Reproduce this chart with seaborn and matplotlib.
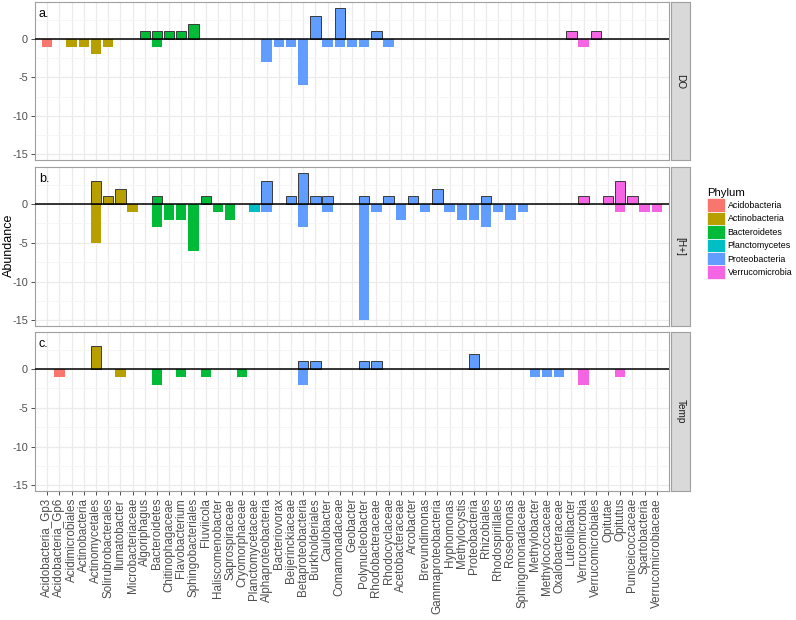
import numpy as np
import pandas as pd
import seaborn as sns
import matplotlib.pyplot as plt
from matplotlib.patches import Patch

# %% data
taxa = ["Acidobacteria_Gp3", "Acidobacteria_Gp6", "Acidimicrobiales", "Actinobacteria",
        "Actinomycetales", "Solirubrobacterales", "Ilumatobacter", "Microbacteriaceae",
        "Algoriphagus", "Bacteroidetes", "Chitinophagaceae", "Flavobacterium",
        "Sphingobacteriales", "Fluviicola", "Haliscomenobacter", "Saprospiraceae",
        "Cryomorphaceae", "Planctomycetaceae", "Alphaproteobacteria", "Bacteriovorax",
        "Beijerinckiaceae", "Betaproteobacteria", "Burkholderiales", "Caulobacter",
        "Comamonadaceae", "Geobacter", "Polynucleobacter", "Rhodobacteraceae",
        "Rhodocyclaceae", "Acetobacteraceae", "Arcobacter", "Brevundimonas",
        "Gammaproteobacteria", "Hyphomonas", "Methylocystis", "Proteobacteria",
        "Rhizobiales", "Rhodospirillales", "Roseomonas", "Sphingomonadaceae",
        "Methylobacter", "Methylococcaceae", "Oxalobacteraceae", "Luteolibacter",
        "Verrucomicrobia", "Verrucomicrobiales", "Opitutae", "Opitutus",
        "Puniceicoccaceae", "Spartobacteria", "Verrucomicrobiaceae"]

phyla = ["Acidobacteria", "Actinobacteria", "Bacteroidetes",
         "Planctomycetes", "Proteobacteria", "Verrucomicrobia"]
phylum_counts = [2, 6, 9, 1, 25, 8]

do_pos = [0, 0, 0, 0, 0, 0, 0, 0, 1, 1,
          1, 1, 2, 0, 0, 0, 0, 0, 0, 0,
          0, 0, 3, 0, 4, 0, 0, 1, 0, 0,
          0, 0, 0, 0, 0, 0, 0, 0, 0, 0,
          0, 0, 0, 1, 0, 1, 0, 0, 0, 0,
          0]
do_neg = [-1, 0, -1, -1, -2, -1, 0, 0, 0, -1,
          0, 0, 0, 0, 0, 0, 0, 0, -3, -1,
          -1, -6, 0, -1, -1, -1, -1, 0, -1, 0,
          0, 0, 0, 0, 0, 0, 0, 0, 0, 0,
          0, 0, 0, 0, -1, 0, 0, 0, 0, 0,
          0]
h_pos = [0, 0, 0, 0, 3, 1, 2, 0, 0, 1,
         0, 0, 0, 1, 0, 0, 0, 0, 3, 0,
         1, 4, 1, 1, 0, 0, 1, 0, 1, 0,
         1, 0, 2, 0, 0, 0, 1, 0, 0, 0,
         0, 0, 0, 0, 1, 0, 1, 3, 1, 0,
         0]
h_neg = [0, 0, 0, 0, -5, 0, 0, -1, 0, -3,
         -2, -2, -6, 0, -1, -2, 0, -1, -1, 0,
         0, -3, 0, -1, 0, 0, -15, -1, 0, -2,
         0, -1, 0, -1, -2, -2, -3, -1, -2, -1,
         0, 0, 0, 0, 0, 0, 0, -1, 0, -1,
         -1]
temp_pos = [0, 0, 0, 0, 3, 0, 0, 0, 0, 0,
            0, 0, 0, 0, 0, 0, 0, 0, 0, 0,
            0, 1, 1, 0, 0, 0, 1, 1, 0, 0,
            0, 0, 0, 0, 0, 2, 0, 0, 0, 0,
            0, 0, 0, 0, 0, 0, 0, 0, 0, 0,
            0]
temp_neg = [0, -1, 0, 0, 0, 0, -1, 0, 0, -2,
            0, -1, 0, -1, 0, 0, -1, 0, 0, 0,
            0, -2, 0, 0, 0, 0, 0, 0, 0, 0,
            0, 0, 0, 0, 0, 0, 0, 0, 0, 0,
            -1, -1, -1, 0, -2, 0, 0, -1, 0, 0,
            0]

facets = ["DO", "[H+]", "Temp"]
panel_tags = ["a.", "b.", "c."]
pos_vals = [do_pos, h_pos, temp_pos]
neg_vals = [do_neg, h_neg, temp_neg]

colors = ["#F8766D", "#B79F00", "#00BA38", "#00BFC4", "#619CFF", "#F564E3"]
palette = dict(zip(phyla, colors))


def main():
    plt.rcParams['font.family'] = ['Liberation Sans', 'DejaVu Sans']
    taxon_phylum = np.repeat(phyla, phylum_counts)

    rows = []
    for facet, pv, nv in zip(facets, pos_vals, neg_vals):
        for t, ph, p, n in zip(taxa, taxon_phylum, pv, nv):
            if p != 0:
                rows.append((facet, t, ph, p, "pos"))
            if n != 0:
                rows.append((facet, t, ph, n, "neg"))
    data = pd.DataFrame(rows, columns=["variable", "taxon", "Phylum", "Abundance", "sign"])

    W, H = 796, 620
    fig = plt.figure(figsize=(W / 100, H / 100), dpi=100)

    left, right = 35, 669
    panels_px = [(2, 160), (167, 326), (332, 491)]
    grey_txt = "#4D4D4D"

    for k, (facet, (top, bot)) in enumerate(zip(facets, panels_px)):
        ax = fig.add_axes([left / W, 1 - bot / H, (right - left) / W, (bot - top) / H])
        sub = data[data["variable"] == facet]
        pos = sub[sub["sign"] == "pos"]
        neg = sub[sub["sign"] == "neg"]
        sns.barplot(data=neg, x="taxon", y="Abundance", hue="Phylum", order=taxa,
                    hue_order=phyla, palette=palette, dodge=False, width=0.85,
                    errorbar=None, linewidth=0, saturation=1, legend=False,
                    ax=ax, zorder=2)
        sns.barplot(data=pos, x="taxon", y="Abundance", hue="Phylum", order=taxa,
                    hue_order=phyla, palette=palette, dodge=False, width=0.85,
                    errorbar=None, edgecolor="#3A3A3A", linewidth=0.7,
                    saturation=1, legend=False, ax=ax, zorder=3)
        ax.axhline(0, color="black", lw=1.1, zorder=4)

        ax.set_xlim(-1, len(taxa))
        ax.set_ylim(-15.75, 4.8)
        ax.set_yticks([0, -5, -10, -15])
        ax.set_yticklabels(["0", "-5", "-10", "-15"])
        ax.set_yticks([2.5, -2.5, -7.5, -12.5], minor=True)
        ax.set_axisbelow(True)
        ax.grid(True, which="major", axis="both", color="#EBEBEB", lw=0.9, zorder=0)
        ax.grid(True, which="minor", axis="y", color="#F5F5F5", lw=0.6, zorder=0)
        ax.tick_params(axis="y", which="minor", length=0)
        ax.tick_params(axis="both", which="major", length=3, color="#333333",
                       labelsize=7.8, labelcolor=grey_txt, width=0.6, pad=2)
        ax.set_ylabel("")
        ax.set_xlabel("")
        for s in ax.spines.values():
            s.set_color("#A0A0A0")
            s.set_linewidth(0.8)
        if k < 2:
            ax.set_xticklabels([])
            ax.tick_params(axis="x", length=0)
        else:
            ax.set_xticks(range(len(taxa)))
            ax.set_xticklabels(taxa, rotation=90, fontsize=8.4, color=grey_txt)
        ax.text(0.006, 0.96, panel_tags[k], transform=ax.transAxes, ha="left",
                va="top", fontsize=9, color="black")

        # facet strip on the right
        sax = fig.add_axes([671 / W, 1 - bot / H, 19 / W, (bot - top) / H])
        sax.set_xticks([])
        sax.set_yticks([])
        sax.set_facecolor("#D9D9D9")
        for s in sax.spines.values():
            s.set_color("#A0A0A0")
            s.set_linewidth(0.8)
        sax.text(0.5, 0.5, facet, rotation=-90, ha="center", va="center",
                 fontsize=7.2, color="#1A1A1A", transform=sax.transAxes)

    fig.text(9 / W, 1 - 245 / H, "Abundance", rotation=90, ha="center",
             va="center", fontsize=9, color="black")

    handles = [Patch(facecolor=c, edgecolor="white", linewidth=0.5) for c in colors]
    fig.legend(handles, phyla, title="Phylum", loc="upper left",
               bbox_to_anchor=(701 / W, 1 - 182 / H), frameon=False,
               fontsize=6.4, title_fontsize=8.2, handlelength=1.95,
               handleheight=1.95, labelspacing=0.0, handletextpad=0.35,
               borderpad=0.2, alignment="left")

    plt.savefig("out.png", dpi=100)


if __name__ == "__main__":
    main()
